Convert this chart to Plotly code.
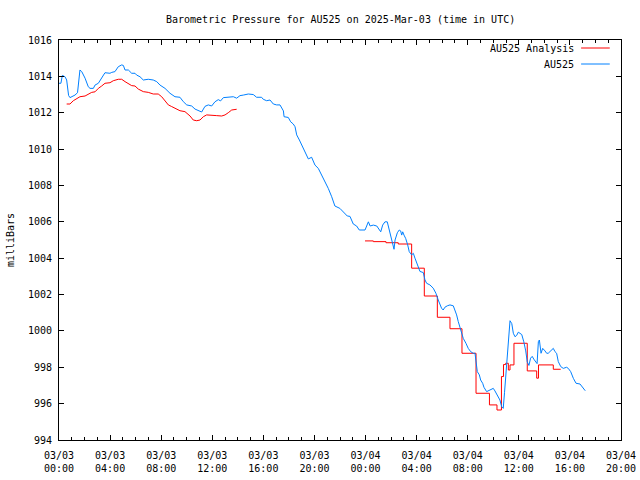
import pandas as pd
import plotly.graph_objects as go

# ---- data (hours after 2025-03-03 00:00 UTC, millibars) ----
blue_hours = [0.0, 0.15, 0.26, 0.47, 0.6, 0.68, 0.75, 0.86, 1.1, 1.25, 1.45, 1.51, 1.64, 1.78, 2.04, 2.29,
              2.43, 2.69, 2.82, 3.08, 3.34, 3.6, 3.99, 4.13, 4.38, 4.64, 4.91, 5.04, 5.17, 5.43, 5.69,
              5.95, 6.08, 6.34, 6.6, 6.99, 7.38, 7.65, 7.91, 8.3, 8.69, 8.82, 9.08, 9.47, 9.73, 10.0,
              10.39, 10.65, 10.91, 11.17, 11.43, 11.69, 11.95, 12.21, 12.47, 12.65, 12.87, 13.26, 13.65,
              13.91, 14.17, 14.43, 14.82, 15.21, 15.47, 15.86, 15.99, 16.26, 16.52, 16.78, 17.04, 17.3,
              17.44, 17.57, 17.62, 17.95, 18.14, 18.34, 18.48, 18.61, 18.82, 19.0, 19.14, 19.26, 19.52,
              19.78, 20.04, 20.3, 20.57, 20.83, 21.08, 21.35, 21.6, 21.99, 22.26, 22.57, 22.78, 23.04,
              23.3, 23.51, 23.96, 24.14, 24.22, 24.36, 24.61, 24.88, 25.0, 25.19, 25.34, 25.52, 25.7,
              25.86, 25.97, 26.12, 26.23, 26.31, 26.49, 26.64, 26.75, 26.83, 26.91, 27.01, 27.14, 27.3,
              27.42, 27.61, 27.74, 27.87, 28.0, 28.12, 28.26, 28.52, 28.65, 28.78, 29.04, 29.3, 29.51,
              29.69, 29.82, 29.95, 30.08, 30.21, 30.4, 30.61, 30.87, 31.0, 31.13, 31.26, 31.4, 31.52,
              31.65, 31.86, 32.04, 32.23, 32.43, 32.57, 32.65, 32.75, 32.91, 33.01, 33.17, 33.27, 33.48,
              33.69, 33.87, 34.0, 34.13, 34.31, 34.52, 34.66, 34.78, 34.88, 34.97, 35.1, 35.2, 35.27,
              35.31, 35.45, 35.57, 35.7, 35.83, 35.96, 36.15, 36.23, 36.39, 36.54, 36.66, 36.79, 36.92,
              37.05, 37.17, 37.3, 37.43, 37.53, 37.61, 37.74, 37.87, 38.05, 38.18, 38.3, 38.44, 38.7,
              38.83, 38.96, 39.09, 39.28, 39.48, 39.74, 39.87, 40.06, 40.27, 40.48, 40.79, 41.0, 41.2]
blue_mb = [1013.62, 1013.62, 1014.05, 1013.98, 1013.8, 1013.4, 1012.95, 1012.83, 1012.9, 1012.97, 1013.1, 1013.43,
           1014.35, 1014.26, 1013.9, 1013.43, 1013.34, 1013.34, 1013.52, 1013.62, 1013.9, 1014.2, 1014.17,
           1014.22, 1014.26, 1014.53, 1014.63, 1014.6, 1014.35, 1014.35, 1014.17, 1014.17, 1014.07,
           1013.98, 1013.8, 1013.84, 1013.8, 1013.71, 1013.52, 1013.34, 1013.07, 1013.0, 1012.88, 1012.85,
           1012.61, 1012.43, 1012.37, 1012.2, 1012.11, 1012.04, 1012.35, 1012.43, 1012.37, 1012.6,
           1012.72, 1012.65, 1012.83, 1012.85, 1012.88, 1012.8, 1012.94, 1012.97, 1013.03, 1013.0,
           1012.85, 1012.85, 1012.74, 1012.66, 1012.7, 1012.48, 1012.43, 1012.43, 1012.25, 1012.1,
           1011.78, 1011.74, 1011.5, 1011.38, 1011.23, 1010.78, 1010.5, 1010.23, 1009.95, 1009.77,
           1009.46, 1009.55, 1009.12, 1008.94, 1008.58, 1008.21, 1007.84, 1007.38, 1006.87, 1006.74,
           1006.56, 1006.32, 1006.3, 1005.88, 1005.77, 1005.55, 1005.55, 1005.88, 1006.0, 1005.77,
           1005.82, 1005.77, 1005.63, 1005.45, 1005.82, 1006.0, 1006.0, 1005.55, 1005.18, 1004.82,
           1004.49, 1005.0, 1005.4, 1005.55, 1005.5, 1005.27, 1005.45, 1005.27, 1005.09, 1004.73,
           1004.36, 1004.18, 1004.27, 1004.0, 1003.72, 1003.45, 1003.27, 1003.21, 1002.81, 1002.62,
           1002.53, 1002.35, 1002.07, 1001.7, 1001.43, 1001.25, 1001.15, 1001.3, 1001.38, 1001.43,
           1001.38, 1001.15, 1000.88, 1000.51, 1000.14, 999.87, 999.59, 999.32, 999.04, 998.86, 998.77,
           998.77, 998.13, 997.76, 997.58, 997.3, 997.12, 996.9, 996.66, 996.75, 996.8, 996.84, 996.7,
           996.47, 996.2, 995.83, 995.74, 996.6, 997.49, 998.59, 999.5, 1000.42, 1000.56, 1000.4,
           999.87, 999.68, 999.75, 999.93, 999.87, 999.8, 999.4, 998.9, 998.3, 998.1, 998.5, 998.6,
           998.45, 998.3, 998.2, 999.41, 999.5, 998.77, 999.04, 998.9, 998.77, 998.77, 998.86, 999.04,
           998.86, 998.77, 998.31, 998.04, 997.94, 998.0, 997.94, 997.76, 997.39, 997.12, 997.08,
           996.9, 996.71]

analysis1_hours = [0.6, 0.86, 1.12, 1.39, 1.64, 2.04, 2.29, 2.56, 2.82, 3.08, 3.34, 3.6, 3.99, 4.25,
                   4.64, 4.91, 5.17, 5.43, 5.69, 5.95, 6.21, 6.6, 6.99, 7.38, 7.77, 8.04, 8.3, 8.56,
                   8.82, 9.08, 9.47, 9.86, 10.26, 10.51, 10.78, 11.04, 11.3, 11.56, 11.95, 12.35,
                   12.74, 13.0, 13.25, 13.52, 13.91]
analysis1_mb = [1012.48, 1012.48, 1012.66, 1012.79, 1012.88, 1012.92, 1013.01, 1013.12, 1013.15,
                1013.34, 1013.47, 1013.62, 1013.65, 1013.76, 1013.84, 1013.84, 1013.71, 1013.58,
                1013.49, 1013.47, 1013.3, 1013.16, 1013.12, 1013.03, 1013.03, 1012.88, 1012.66,
                1012.43, 1012.34, 1012.25, 1012.11, 1012.06, 1011.82, 1011.6, 1011.56, 1011.6,
                1011.78, 1011.88, 1011.88, 1011.84, 1011.82, 1011.88, 1012.0, 1012.15, 1012.19]

analysis2_hours = [23.96, 24.61, 25.6, 26.56, 27.61, 28.6, 29.62, 30.61, 31.55, 32.65, 33.7, 34.29,
                   34.64, 34.8, 34.97, 35.18, 35.31, 35.62, 36.66, 37.4, 37.54, 38.7, 39.28]
analysis2_mb = [1004.95, 1004.91, 1004.85, 1004.78, 1003.45, 1001.92, 1000.75, 1000.12, 998.77,
                996.57, 995.93, 995.65, 997.49, 998.15, 998.22, 997.85, 998.13, 999.32, 997.8,
                997.4, 998.13, 997.89, 997.89]

start = pd.Timestamp("2025-03-03 00:00")
end = pd.Timestamp("2025-03-04 20:00")
ymin, ymax = 994, 1016
title = "Barometric Pressure for AU525 on 2025-Mar-03 (time in UTC)"
y_title = "milliBars"
series_names = ["AU525 Analysis", "AU525"]
red, blue = "#ff0000", "#0080ff"
FONT = "DejaVu Sans Mono"


def to_time(hours):
    return start + pd.to_timedelta(hours, unit="h")


fig = go.Figure()
fig.add_trace(go.Scatter(x=to_time(analysis1_hours), y=analysis1_mb, mode="lines",
                         line=dict(color=red, width=1), name=series_names[0]))
fig.add_trace(go.Scatter(x=to_time(analysis2_hours), y=analysis2_mb, mode="lines",
                         line=dict(color=red, width=1, shape="hv"), name=series_names[0]))
fig.add_trace(go.Scatter(x=to_time(blue_hours), y=blue_mb, mode="lines",
                         line=dict(color=blue, width=1), name=series_names[1]))

axis_common = dict(showline=True, linecolor="black", linewidth=1, mirror="ticks",
                   ticks="inside", tickcolor="black", ticklen=5, tickwidth=1,
                   showgrid=False, zeroline=False, automargin=False,
                   tickfont=dict(family=FONT, size=10, color="black"))

fig.update_xaxes(type="date", range=[start, end], dtick=4 * 3600 * 1000, tick0=start,
                 tickformat="%m/%d<br>%H:%M", ticklabelstandoff=6,
                 minor=dict(ticks="inside", dtick=3600 * 1000, ticklen=3, tickcolor="black"),
                 **axis_common)
fig.update_yaxes(range=[ymin, ymax], dtick=2, ticklabelstandoff=4, **axis_common)

txt_font = dict(family=FONT, size=10, color="black")
fig.add_annotation(xref="paper", yref="paper", x=0.5, y=1.0525, text=title, showarrow=False,
                   xanchor="center", yanchor="middle", font=txt_font)
fig.add_annotation(xref="paper", yref="paper", x=-0.087, y=0.5, text=y_title, showarrow=False,
                   textangle=-90, xanchor="center", yanchor="middle", font=txt_font)

# gnuplot-style key: text right-aligned, line sample to the right
legend_rows = [(series_names[0], red), (series_names[1], blue)]
for i, (name, col) in enumerate(legend_rows):
    yy = 0.98 - i * 0.04
    fig.add_annotation(xref="paper", yref="paper", x=0.92, y=yy, text=name, showarrow=False,
                       xanchor="right", yanchor="middle", font=txt_font)
    fig.add_shape(type="line", xref="paper", yref="paper", x0=0.929, x1=0.98, y0=yy, y1=yy,
                  line=dict(color=col, width=1))

fig.update_layout(
    width=640, height=480,
    margin=dict(l=59, r=19, t=40, b=40),
    paper_bgcolor="white", plot_bgcolor="white",
    showlegend=False,
)

fig.write_html("out.html",
               config={"displayModeBar": False, "staticPlot": True},
               post_script="document.body.style.margin='0px';document.body.style.overflow='hidden';")
